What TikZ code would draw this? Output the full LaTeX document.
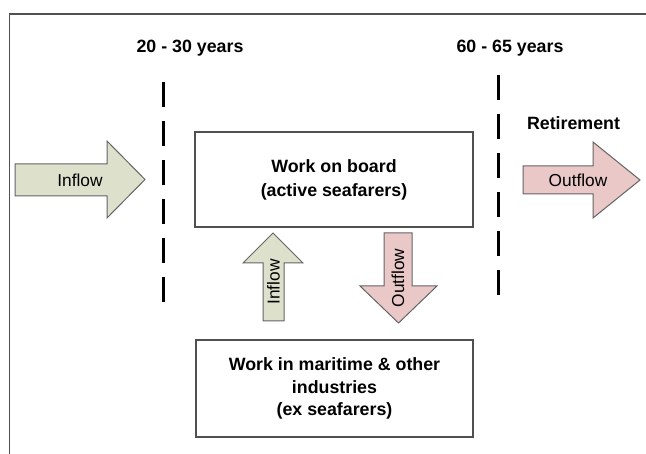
\documentclass[tikz,border=0pt]{standalone}
\usepackage{fontspec}
\setmainfont{Liberation Sans}
\definecolor{arrowgreen}{RGB}{221,225,204}
\definecolor{arrowpink}{RGB}{234,200,200}
\definecolor{framegray}{RGB}{80,80,80}
\definecolor{arrowline}{RGB}{100,100,100}
\begin{document}
\begin{tikzpicture}[x=1pt,y=-1pt,
  lbl/.style={font=\fontsize{17.8}{21}\selectfont\bfseries, align=center, inner sep=0pt},
  albl/.style={font=\fontsize{17.3}{21}\selectfont, inner sep=0pt},
  box/.style={draw=framegray, line width=1.5pt, fill=white, align=center, inner sep=0pt},
  greenarrow/.style={draw=arrowline, line width=1pt, fill=arrowgreen, line join=miter},
  pinkarrow/.style={draw=arrowline, line width=1pt, fill=arrowpink, line join=miter},
  timeline/.style={line width=3pt, dash pattern=on 25pt off 14pt}]
\useasboundingbox (0,0) rectangle (646,454);
% frame (top and left edges)
\draw[framegray, line width=1.5pt] (646,14) -- (9.5,14) -- (9.5,454);
% age labels
\node[lbl] (age1) at (190,48) {20 - 30 years};
\node[lbl] (age2) at (510,48) {60 - 65 years};
\node[lbl] (ret) at (573.5,123) {Retirement};
% dashed time lines
\coordinate (d1a) at (163,82);
\coordinate (d1b) at (163,302);
\coordinate (d2a) at (498,75);
\coordinate (d2b) at (498,295);
\draw[timeline] (d1a) -- (d1b);
\draw[timeline] (d2a) -- (d2b);
% boxes
\node[box, minimum width=278pt, minimum height=95pt,
      font=\fontsize{17.8}{24}\selectfont\bfseries] (board) at (334,179.5)
      {Work on board\\(active seafarers)};
\node[box, minimum width=277pt, minimum height=97pt,
      font=\fontsize{17.8}{22.5}\selectfont\bfseries] (ex) at (334.5,388.5)
      {Work in maritime \& other\\industries\\(ex seafarers)};
% left inflow arrow
\draw[greenarrow] (15,164) -- (107,164) -- (107,141) -- (145,179.5) -- (107,218) -- (107,196) -- (15,196) -- cycle;
\node[albl] (inL) at (80,180) {Inflow};
% right outflow arrow
\draw[pinkarrow] (523,166) -- (593,166) -- (593,142) -- (640,180) -- (593,218) -- (593,194) -- (523,194) -- cycle;
\node[albl] (outR) at (578,180) {Outflow};
% up inflow arrow
\draw[greenarrow] (263,321) -- (263,263) -- (243,263) -- (273,233) -- (303,263) -- (284,263) -- (284,321) -- cycle;
\node[albl, rotate=90] (inU) at (273.5,282) {Inflow};
% down outflow arrow
\draw[pinkarrow] (384,233) -- (412,233) -- (412,286) -- (437,286) -- (398.5,323) -- (360,286) -- (384,286) -- cycle;
\node[albl, rotate=90] (outD) at (398,278) {Outflow};
\end{tikzpicture}
\end{document}
